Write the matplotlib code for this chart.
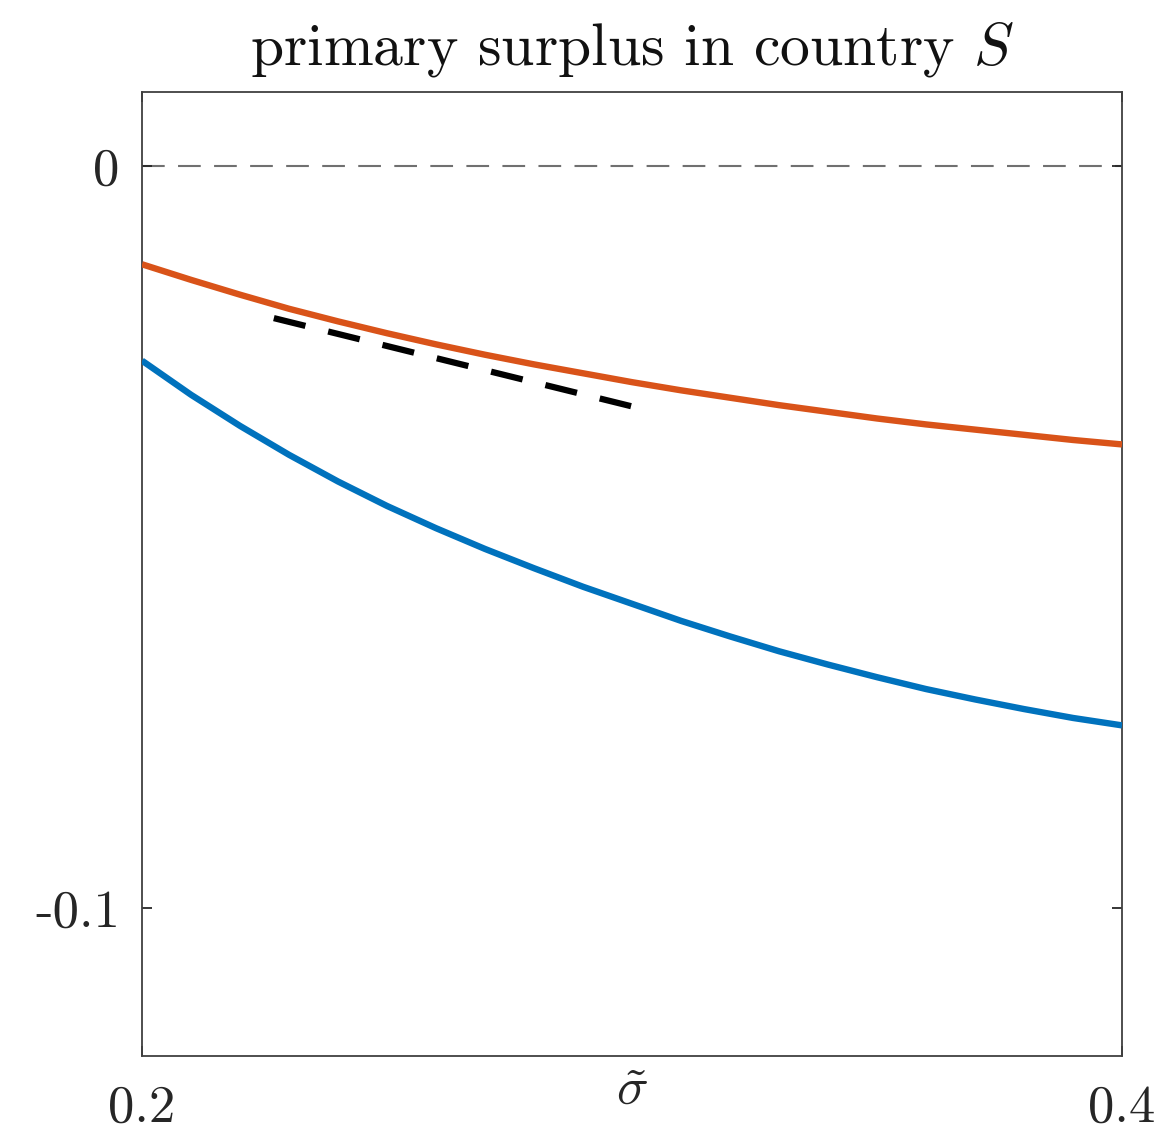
import numpy as np
import matplotlib
matplotlib.use("Agg")
import matplotlib.pyplot as plt

plt.rcParams['font.family'] = 'cmr10'
plt.rcParams['mathtext.fontset'] = 'cm'
plt.rcParams['axes.unicode_minus'] = False

# values
sigma = [0.20, 0.21, 0.22, 0.23, 0.24, 0.25, 0.26, 0.27, 0.28, 0.29, 0.30,
         0.31, 0.32, 0.33, 0.34, 0.35, 0.36, 0.37, 0.38, 0.39, 0.40]
surplus_blue = [-0.0262, -0.0308, -0.0350, -0.0389, -0.0425, -0.0458, -0.0488,
                -0.0516, -0.0542, -0.0567, -0.0590, -0.0613, -0.0634, -0.0654,
                -0.0672, -0.0689, -0.0705, -0.0719, -0.0732, -0.0744, -0.0754]
surplus_orange = [-0.0132, -0.0153, -0.0173, -0.0192, -0.0209, -0.0225, -0.0240,
                  -0.0254, -0.0267, -0.0279, -0.0291, -0.0302, -0.0312, -0.0322,
                  -0.0331, -0.0340, -0.0348, -0.0355, -0.0362, -0.0369, -0.0375]
tangent_x = [0.2269, 0.2998]
tangent_y = [-0.02046, -0.03234]

fig = plt.figure(figsize=(11.69, 11.30), dpi=100)
ax = fig.add_axes([0.1215, 0.0655, 0.8383, 0.8528])

ax.axhline(0, color='#707070', lw=1.5, dashes=(10.9, 6.4), zorder=1)
ax.plot(sigma, surplus_orange, color='#D95319', lw=4.6, solid_capstyle='butt',
        solid_joinstyle='round', zorder=3)
ax.plot(sigma, surplus_blue, color='#0072BD', lw=4.6, solid_capstyle='butt',
        solid_joinstyle='round', zorder=3)
ax.plot(tangent_x, tangent_y, color='black', lw=4.5, dashes=(5.2, 3.75), zorder=4)

ax.set_xlim(0.2, 0.4)
ax.set_ylim(-0.12, 0.01)
ax.set_xticks([0.2, 0.4])
ax.set_xticklabels(['0.2', '0.4'])
ax.set_yticks([-0.1, 0])
ax.set_yticklabels(['-0.1', '0'])

ax.tick_params(direction='in', length=7, width=1.3, color='#262626',
               labelsize=38, top=True, right=True, labelcolor='#262626')
ax.tick_params(axis='x', pad=21)
ax.tick_params(axis='y', pad=16)
for sp in ax.spines.values():
    sp.set_linewidth(1.3)
    sp.set_color('#404040')

ax.set_xlabel(r'$\tilde{\sigma}$', fontsize=38, color='#262626')
ax.xaxis.set_label_coords(0.5, -0.012)
ax.set_title(r'primary surplus in country $S$', fontsize=43, pad=20, color='#111111')

fig.savefig('out.png', dpi=100)
